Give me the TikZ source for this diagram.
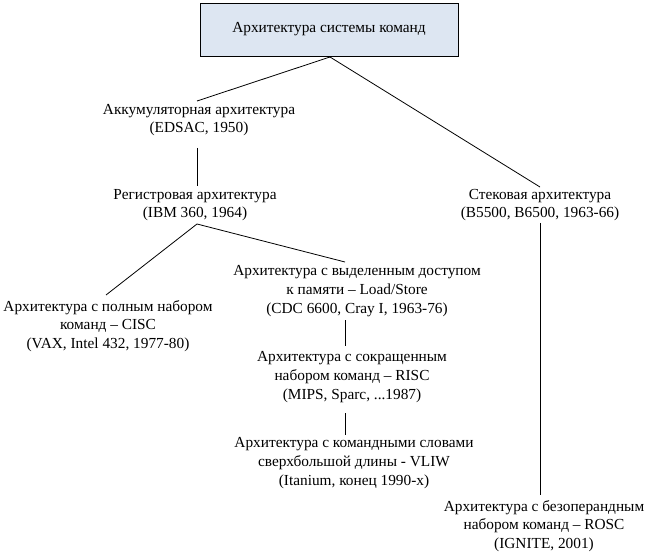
\documentclass[tikz,border=0pt]{standalone}
\usepackage{fontspec}
\setmainfont{Liberation Serif}
\begin{document}
\begin{tikzpicture}[x=0.75pt,y=-0.75pt,
 lbl/.style={align=center,font=\fontsize{11.5}{14}\selectfont,inner sep=1pt},
 ln/.style={draw=black,line width=0.6pt}]
\useasboundingbox (0,0) rectangle (650,556);
\node[draw,fill={rgb,255:red,221;green,230;blue,242},minimum width=258*0.75pt,minimum height=53*0.75pt,lbl] (top) at (329,29.5) {Архитектура системы команд};
\node[lbl] (acc) at (199,120) {Аккумуляторная архитектура\\(EDSAC, 1950)};
\node[lbl] (reg) at (195,205) {Регистровая архитектура\\(IBM 360, 1964)};
\node[lbl] (stk) at (540,205) {Стековая архитектура\\(B5500, B6500, 1963-66)};
\node[lbl] (cisc) at (108,326) {Архитектура с полным набором\\команд – CISC\\(VAX, Intel 432, 1977-80)};
\node[lbl] (ls) at (357,291) {Архитектура с выделенным доступом\\к памяти – Load/Store\\(CDC 6600, Cray I, 1963-76)};
\node[lbl] (risc) at (352,377) {Архитектура с сокращенным\\набором команд – RISC\\(MIPS, Sparc, ...1987)};
\node[lbl] (vliw) at (354,463) {Архитектура с командными словами\\сверхбольшой длины - VLIW\\(Itanium, конец 1990-х)};
\node[lbl] (rosc) at (544,526) {Архитектура с безоперандным\\набором команд – ROSC\\(IGNITE, 2001)};
\coordinate (t) at (330,57);
\draw[ln] (t) -- (197,101);
\draw[ln] (t) -- (540,187);
\draw[ln] (197,148) -- (197,186);
\draw[ln] (197,224) -- (106,295);
\draw[ln] (197,224) -- (345,262);
\draw[ln] (345,320) -- (345,346);
\draw[ln] (345,413) -- (345,435);
\draw[ln] (540,223) -- (540,495);
\end{tikzpicture}
\end{document}
